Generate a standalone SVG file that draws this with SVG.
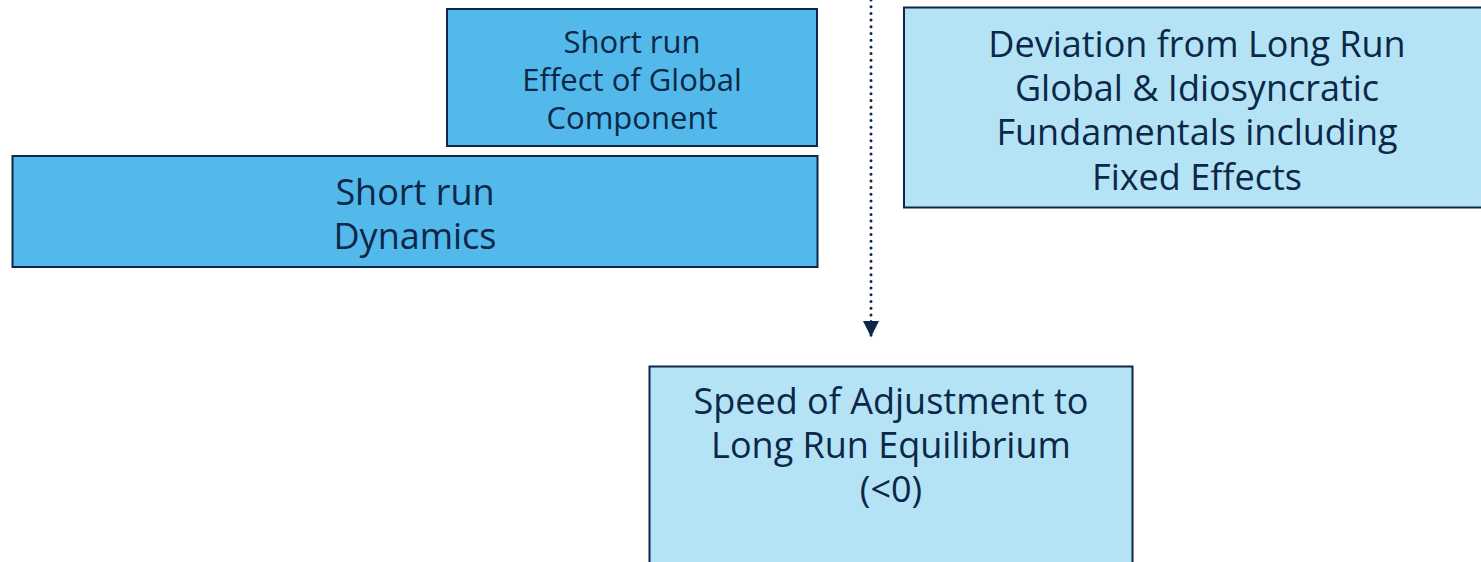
<svg xmlns="http://www.w3.org/2000/svg" width="1481" height="562" viewBox="0 0 1481 562">
<style>
.box{stroke:#0c2748;stroke-width:2}
.dark{fill:#52b9ea}
.light{fill:#b4e3f6}
text{font-family:"Open Sans","Liberation Sans",sans-serif;fill:#0c2748;text-anchor:middle}
.s{font-size:31px}
.b{font-size:36px}
</style>
<defs>
<marker id="arr" viewBox="0 0 10 10" refX="5" refY="10" markerWidth="16" markerHeight="16" markerUnits="userSpaceOnUse" orient="auto-start-reverse">
<path d="M0,0 L10,0 L5,10 Z" fill="#0c2748"/>
</marker>
</defs>
<rect width="1481" height="562" fill="#ffffff"/>
<g id="connectors">
<line x1="871" y1="0" x2="871" y2="337" stroke="#0c2748" stroke-width="3" stroke-dasharray="0 6.7" stroke-linecap="round"/>
<path d="M863,321 L879,321 L871,337 Z" fill="#0c2748"/>
</g>
<g id="node-global">
<rect class="box dark" x="447" y="9" width="370" height="137"/>
<text class="s" x="632" y="53">Short run</text>
<text class="s" x="632" y="91">Effect of Global</text>
<text class="s" x="632" y="129">Component</text>
</g>
<g id="node-dynamics">
<rect class="box dark" x="12.5" y="156" width="805" height="111"/>
<text class="b" x="415" y="205">Short run</text>
<text class="b" x="415" y="249">Dynamics</text>
</g>
<g id="node-deviation">
<rect class="box light" x="904" y="7.5" width="590" height="200"/>
<text class="b" x="1197" y="57">Deviation from Long Run</text>
<text class="b" x="1197" y="101">Global &amp; Idiosyncratic</text>
<text class="b" x="1197" y="145">Fundamentals including</text>
<text class="b" x="1197" y="190">Fixed Effects</text>
</g>
<g id="node-speed">
<rect class="box light" x="649.5" y="366.5" width="483" height="210"/>
<text class="b" x="891" y="414">Speed of Adjustment to</text>
<text class="b" x="891" y="458">Long Run Equilibrium</text>
<text class="b" x="891" y="502">(&lt;0)</text>
</g>
</svg>
